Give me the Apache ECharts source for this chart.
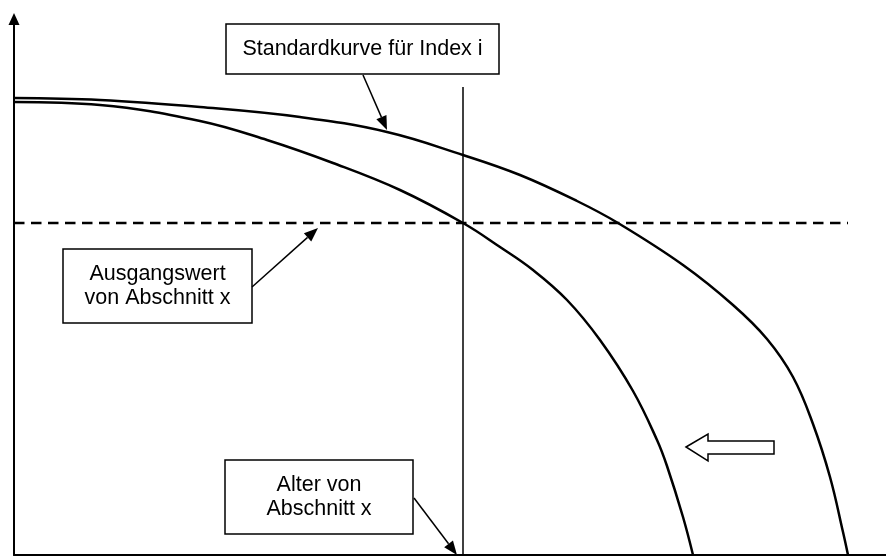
<!DOCTYPE html>
<html>
<head>
<meta charset="utf-8">
<script src="https://cdn.jsdelivr.net/npm/echarts@6/dist/echarts.min.js"></script>
<style>
    html, body { margin: 0; padding: 0; background: #fff; }
    #chart { width: 886px; height: 560px; }
</style>
</head>
<body>
<div id="chart"></div>
<script>
// Standardkurve für Index i (x = Alter, y = Zustandswert, schematic units)
var standardX = [0, 86, 186, 286, 373, 449, 506, 563, 604, 669, 719, 753, 779, 799, 816, 829, 834];
var standardY = [457, 455, 448, 438, 423, 400, 380, 354, 332, 290, 250, 216, 178, 131, 78, 23, 0];

// verschobene Kurve für Abschnitt x
var shiftedX = [0, 86, 186, 253, 319, 386, 449, 486, 519, 553, 586, 619, 643, 653, 669, 679];
var shiftedY = [453, 450, 434, 415, 392, 365, 332, 308, 285, 255, 215, 164, 115, 89, 38, 0];

// Ausgangswert (dashed) and Alter (vertical line) of Abschnitt x
var startValue = 332;
var startValueEnd = 834;
var sectionAge = 449;
var sectionAgeTop = 468;

var labelStandard = "Standardkurve für Index i";
var labelStart = "Ausgangswert\nvon Abschnitt x";
var labelAge = "Alter von\nAbschnitt x";

function zip(xs, ys) {
    return xs.map(function (x, i) { return [x, ys[i]]; });
}

var FONT = '21.5px "Liberation Sans", Arial, sans-serif';

function textBox(x, y, w, h, text) {
    return [
        {
            type: "rect",
            shape: { x: x, y: y, width: w, height: h },
            style: { fill: "#fff", stroke: "#000", lineWidth: 1.5 },
            z: 10
        },
        {
            type: "text",
            style: {
                text: text,
                x: x + w / 2,
                y: y + h / 2,
                align: "center",
                verticalAlign: "middle",
                font: FONT,
                lineHeight: 24,
                fill: "#000"
            },
            z: 11
        }
    ];
}

function callout(x1, y1, x2, y2) {
    var dx = x2 - x1, dy = y2 - y1;
    var len = Math.sqrt(dx * dx + dy * dy);
    var ux = dx / len, uy = dy / len;
    var headLen = 14, half = 5.5;
    var bx = x2 - ux * headLen, by = y2 - uy * headLen;
    return [
        {
            type: "line",
            shape: { x1: x1, y1: y1, x2: bx, y2: by },
            style: { stroke: "#000", lineWidth: 1.5 },
            z: 10
        },
        {
            type: "polygon",
            shape: { points: [[x2, y2], [bx - uy * half, by + ux * half], [bx + uy * half, by - ux * half]] },
            style: { fill: "#000" },
            z: 10
        }
    ];
}

var chart = echarts.init(document.getElementById("chart"));

var graphics = []
    .concat(textBox(226, 24, 273, 50, labelStandard))
    .concat(callout(363, 75, 387, 130))
    .concat(textBox(63, 249, 189, 74, labelStart))
    .concat(callout(252, 287, 318, 228))
    .concat(textBox(225, 460, 188, 74, labelAge))
    .concat(callout(414, 498, 457, 555))
    .concat([{
        type: "polygon",
        shape: { points: [[686, 447], [708, 434], [708, 441], [774, 441], [774, 454], [708, 454], [708, 461]] },
        style: { fill: "#fff", stroke: "#000", lineWidth: 1.5 },
        z: 10
    }]);

var option = {
    animation: false,
    backgroundColor: "#fff",
    grid: { left: 14, right: 0, top: 19, bottom: 5 },
    xAxis: {
        type: "value",
        min: 0,
        max: 872,
        axisLine: { show: true, lineStyle: { color: "#000", width: 2 } },
        axisTick: { show: false },
        axisLabel: { show: false },
        splitLine: { show: false }
    },
    yAxis: {
        type: "value",
        min: 0,
        max: 536,
        axisLine: {
            show: true,
            symbol: ["none", "triangle"],
            symbolSize: [11, 12],
            lineStyle: { color: "#000", width: 2 }
        },
        axisTick: { show: false },
        axisLabel: { show: false },
        splitLine: { show: false }
    },
    series: [
        {
            name: "Standardkurve",
            type: "line",
            data: zip(standardX, standardY),
            smooth: 0.4,
            showSymbol: false,
            lineStyle: { color: "#000", width: 2.5 }
        },
        {
            name: "Abschnitt x",
            type: "line",
            data: zip(shiftedX, shiftedY),
            smooth: 0.4,
            showSymbol: false,
            lineStyle: { color: "#000", width: 2.5 }
        },
        {
            name: "Ausgangswert",
            type: "line",
            data: [[0, startValue], [startValueEnd, startValue]],
            showSymbol: false,
            lineStyle: { color: "#000", width: 2.5, type: [10.5, 6.5] }
        },
        {
            name: "Alter",
            type: "line",
            data: [[sectionAge, 0], [sectionAge, sectionAgeTop]],
            showSymbol: false,
            lineStyle: { color: "#000", width: 1.5 }
        }
    ],
    graphic: graphics
};

chart.setOption(option);
</script>
</body>
</html>
